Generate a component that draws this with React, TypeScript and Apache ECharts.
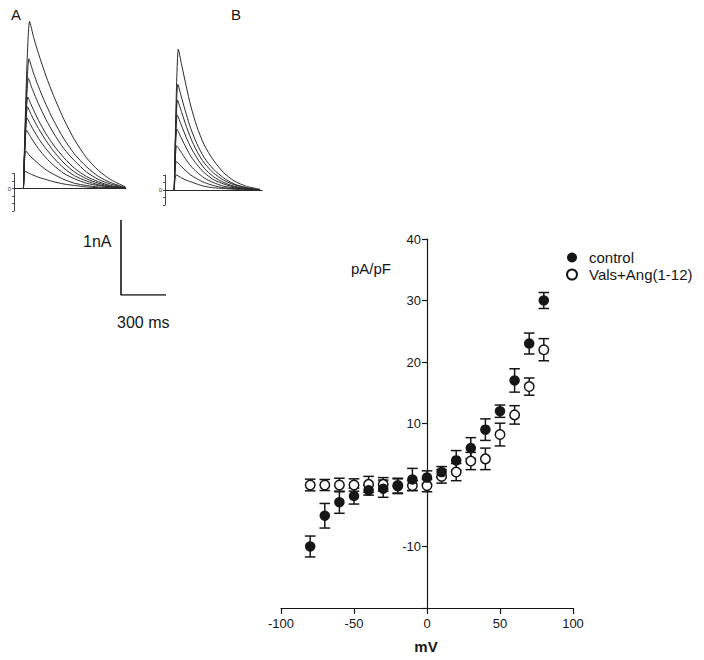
import React, { useEffect, useRef } from "react";
import * as echarts from "echarts";

// ---------- I-V data ----------
const voltages = [-80, -70, -60, -50, -40, -30, -20, -10, 0, 10, 20, 30, 40, 50, 60, 70, 80];
const controlMean = [-10, -5, -2.8, -1.8, -0.85, -0.6, -0.2, 0.9, 1.2, 2.1, 4.0, 6.0, 9.0, 12.0, 17.0, 23.0, 30.0];
const controlSem = [1.7, 2.0, 1.8, 1.3, 0.8, 1.4, 1.2, 1.8, 1.1, 0.9, 1.6, 1.7, 1.75, 1.0, 1.9, 1.7, 1.3];
const valsMean = [0, 0, 0, 0, 0.1, 0.1, -0.1, -0.1, -0.1, 1.4, 2.1, 3.9, 4.25, 8.2, 11.4, 16, 22];
const valsSem = [0.95, 0.9, 1.1, 1.0, 1.3, 1.1, 1.2, 0.8, 1.0, 1.1, 1.4, 1.4, 1.75, 1.85, 1.5, 1.4, 1.8];
const xTicks = [-100, -50, 0, 50, 100];
const yHiddenLabels = [0, -20];

// ---------- current traces (ms, nA) ----------
const tracesA = [
  [[0, 0], [41, 2.23], [70, 2.0], [100, 1.8], [150, 1.5], [200, 1.24], [270, 0.92], [340, 0.65], [420, 0.41], [500, 0.24], [580, 0.12], [680, 0.02]],
  [[0, 0], [37, 1.73], [65, 1.55], [100, 1.36], [150, 1.12], [200, 0.91], [270, 0.66], [340, 0.46], [420, 0.29], [500, 0.16], [580, 0.08], [680, 0.01]],
  [[0, 0], [33, 1.47], [60, 1.32], [100, 1.13], [150, 0.92], [200, 0.74], [270, 0.53], [340, 0.37], [420, 0.22], [500, 0.12], [580, 0.06], [680, 0.01]],
  [[0, 0], [29, 1.22], [55, 1.1], [100, 0.91], [150, 0.73], [200, 0.58], [270, 0.41], [340, 0.27], [420, 0.16], [500, 0.09], [580, 0.04], [680, 0.01]],
  [[0, 0], [27, 1.09], [55, 0.97], [100, 0.8], [150, 0.64], [200, 0.5], [270, 0.34], [340, 0.22], [420, 0.13], [500, 0.07], [580, 0.03], [680, 0]],
  [[0, 0], [24, 0.94], [50, 0.84], [100, 0.67], [150, 0.53], [200, 0.41], [270, 0.27], [340, 0.17], [420, 0.1], [500, 0.05], [580, 0.02], [680, 0]],
  [[0, 0], [20, 0.78], [50, 0.68], [100, 0.53], [150, 0.41], [200, 0.31], [270, 0.2], [340, 0.13], [420, 0.07], [500, 0.04], [580, 0.02], [680, 0]],
  [[0, 0], [16, 0.5], [45, 0.43], [100, 0.33], [150, 0.25], [200, 0.19], [270, 0.12], [340, 0.07], [420, 0.04], [500, 0.02], [580, 0.01], [680, 0]],
  [[0, 0], [12, 0.23], [40, 0.2], [100, 0.15], [150, 0.12], [200, 0.09], [270, 0.06], [340, 0.04], [420, 0.02], [500, 0.01], [580, 0], [680, 0]],
];
const tracesB = [
  [[0, 0], [27, 1.88], [50, 1.66], [80, 1.38], [110, 1.12], [150, 0.85], [200, 0.6], [260, 0.4], [330, 0.23], [400, 0.12], [480, 0.05], [571, 0.01]],
  [[0, 0], [24, 1.41], [50, 1.22], [80, 1.01], [110, 0.82], [150, 0.62], [200, 0.43], [260, 0.28], [330, 0.16], [400, 0.08], [480, 0.03], [571, 0]],
  [[0, 0], [22, 1.2], [50, 1.03], [80, 0.85], [110, 0.69], [150, 0.52], [200, 0.36], [260, 0.23], [330, 0.13], [400, 0.07], [480, 0.03], [571, 0]],
  [[0, 0], [20, 1.0], [50, 0.85], [80, 0.7], [110, 0.57], [150, 0.43], [200, 0.29], [260, 0.18], [330, 0.1], [400, 0.05], [480, 0.02], [571, 0]],
  [[0, 0], [18, 0.81], [50, 0.68], [80, 0.56], [110, 0.45], [150, 0.34], [200, 0.23], [260, 0.14], [330, 0.08], [400, 0.04], [480, 0.02], [571, 0]],
  [[0, 0], [16, 0.59], [50, 0.49], [80, 0.4], [110, 0.32], [150, 0.24], [200, 0.16], [260, 0.1], [330, 0.05], [400, 0.03], [480, 0.01], [571, 0]],
  [[0, 0], [14, 0.38], [50, 0.31], [80, 0.25], [110, 0.2], [150, 0.15], [200, 0.1], [260, 0.06], [330, 0.03], [400, 0.02], [480, 0.01], [571, 0]],
  [[0, 0], [12, 0.2], [50, 0.16], [80, 0.13], [110, 0.11], [150, 0.08], [200, 0.05], [260, 0.03], [330, 0.02], [400, 0.01], [480, 0], [571, 0]],
];
// scale bar: 300 ms x 1 nA
const scaleBar = [[0, 1], [0, 0], [300, 0]];

const FONT = "'Liberation Sans', Arial, sans-serif";
const INK = "#161616";

function errorSeries(name: string, means: number[], sems: number[], z: number) {
  return {
    type: "custom",
    name,
    xAxisIndex: 0,
    yAxisIndex: 0,
    z,
    data: voltages.map((v, i) => [v, means[i] - sems[i], means[i] + sems[i]]),
    encode: { x: 0, y: [1, 2] },
    renderItem: (_p: any, api: any) => {
      const x = api.value(0);
      const lo = api.coord([x, api.value(1)]);
      const hi = api.coord([x, api.value(2)]);
      const hw = 5.3;
      const style = { stroke: INK, lineWidth: 1.5, fill: "none" };
      return {
        type: "group",
        children: [
          { type: "line", shape: { x1: lo[0], y1: lo[1], x2: hi[0], y2: hi[1] }, style },
          { type: "line", shape: { x1: lo[0] - hw, y1: lo[1], x2: lo[0] + hw, y2: lo[1] }, style },
          { type: "line", shape: { x1: hi[0] - hw, y1: hi[1], x2: hi[0] + hw, y2: hi[1] }, style },
        ],
      };
    },
  };
}

function traceSeries(traces: number[][][], axisIndex: number) {
  return traces.map((d, i) => ({
    type: "line",
    name: `trace${axisIndex}_${i}`,
    xAxisIndex: axisIndex,
    yAxisIndex: axisIndex,
    data: d,
    showSymbol: false,
    smooth: 0.25,
    lineStyle: { color: "#2a2a2a", width: 1 },
    z: 2,
  }));
}

const hiddenAxis = (gridIndex: number, min: number, max: number) => ({
  type: "value",
  gridIndex,
  min,
  max,
  show: false,
});

const miniYAxis = (gridIndex: number, min: number, max: number) => ({
  type: "value",
  gridIndex,
  min,
  max,
  interval: 0.1,
  axisLine: { show: true, lineStyle: { color: "#444", width: 1 } },
  axisTick: { show: true, length: 2, lineStyle: { color: "#555", width: 1 } },
  axisLabel: {
    margin: 3,
    fontSize: 6,
    color: "#333",
    fontFamily: FONT,
    formatter: (v: number) => (Math.abs(v) < 1e-9 ? "0" : ""),
  },
  splitLine: { show: false },
});

export default function App() {
  const ref = useRef<HTMLDivElement>(null);
  useEffect(() => {
    document.body.style.margin = "0";
    const chart = echarts.init(ref.current!, null, { renderer: "svg" });
    const option: any = {
      animation: false,
      backgroundColor: "#ffffff",
      grid: [
        { left: 281, top: 239, width: 292, height: 369 }, // 0: I-V
        { left: 14, top: 8.5, width: 112, height: 210 }, // 1: panel A
        { left: 14, top: 173.5, width: 112, height: 37.5 }, // 2: A mini axis
        { left: 165, top: 10, width: 97, height: 210 }, // 3: panel B
        { left: 165, top: 175, width: 97, height: 30 }, // 4: B mini axis
        { left: 121, top: 220, width: 45, height: 75 }, // 5: scale bar
      ],
      xAxis: [
        {
          type: "value",
          gridIndex: 0,
          min: -100,
          max: 100,
          interval: 50,
          axisLine: { onZero: false, lineStyle: { color: INK, width: 1.2 } },
          axisTick: { show: true, length: 6, lineStyle: { color: INK, width: 1.2 } },
          axisLabel: {
            margin: 9,
            fontSize: 13,
            color: INK,
            fontFamily: FONT,
            formatter: (v: number) => (xTicks.includes(v) ? String(v) : ""),
          },
          splitLine: { show: false },
        },
        {
          type: "value",
          gridIndex: 1,
          min: -63,
          max: 683,
          axisLine: { show: true, onZero: true, lineStyle: { color: "#2a2a2a", width: 1 } },
          axisTick: { show: false },
          axisLabel: { show: false },
          splitLine: { show: false },
        },
        hiddenAxis(2, 0, 1),
        {
          type: "value",
          gridIndex: 3,
          min: -62,
          max: 585,
          axisLine: { show: true, onZero: true, lineStyle: { color: "#2a2a2a", width: 1 } },
          axisTick: { show: false },
          axisLabel: { show: false },
          splitLine: { show: false },
        },
        hiddenAxis(4, 0, 1),
        hiddenAxis(5, 0, 300),
      ],
      yAxis: [
        {
          type: "value",
          gridIndex: 0,
          min: -20,
          max: 40,
          interval: 10,
          position: "left",
          offset: -146,
          axisLine: { show: true, onZero: false, lineStyle: { color: INK, width: 1.2 } },
          axisTick: { show: true, length: 5, lineStyle: { color: INK, width: 1.2 } },
          axisLabel: {
            margin: 6,
            fontSize: 13,
            color: INK,
            fontFamily: FONT,
            formatter: (v: number) => (yHiddenLabels.includes(v) ? "" : String(v)),
          },
          splitLine: { show: false },
        },
        hiddenAxis(1, -0.4, 2.4),
        miniYAxis(2, -0.3, 0.2),
        hiddenAxis(3, -0.4, 2.4),
        miniYAxis(4, -0.2, 0.2),
        hiddenAxis(5, 0, 1),
      ],
      legend: {
        orient: "vertical",
        left: 561,
        top: 245,
        itemWidth: 10,
        itemHeight: 10,
        itemGap: 2,
        data: ["control", "Vals+Ang(1-12)"],
        textStyle: { fontSize: 15, color: INK, fontFamily: FONT, padding: [0, 0, 0, 7] },
        selectedMode: false,
      },
      graphic: [
        { type: "text", left: 11, top: 7, style: { text: "A", fontSize: 15, fill: INK, fontFamily: FONT } },
        { type: "text", left: 231, top: 7, style: { text: "B", fontSize: 15, fill: INK, fontFamily: FONT } },
        { type: "text", x: 83, y: 241, style: { text: "1nA", fontSize: 16, fill: INK, fontFamily: FONT, verticalAlign: "middle" } },
        { type: "text", x: 117, y: 322, style: { text: "300 ms", fontSize: 16, fill: INK, fontFamily: FONT, verticalAlign: "middle" } },
        { type: "text", x: 371, y: 268, style: { text: "pA/pF", fontSize: 15, fill: INK, fontFamily: FONT, align: "center", verticalAlign: "middle" } },
        { type: "text", x: 426, y: 646, style: { text: "mV", fontSize: 15, fontWeight: "bold", fill: INK, fontFamily: FONT, align: "center", verticalAlign: "middle" } },
      ],
      series: [
        errorSeries("Vals SEM", valsMean, valsSem, 3),
        errorSeries("control SEM", controlMean, controlSem, 3),
        {
          type: "scatter",
          name: "Vals+Ang(1-12)",
          xAxisIndex: 0,
          yAxisIndex: 0,
          data: voltages.map((v, i) => [v, valsMean[i]]),
          symbol: "circle",
          symbolSize: 9.5,
          itemStyle: { color: "#ffffff", borderColor: INK, borderWidth: 1.5, opacity: 1 },
          z: 4,
        },
        {
          type: "scatter",
          name: "control",
          xAxisIndex: 0,
          yAxisIndex: 0,
          data: voltages.map((v, i) => [v, controlMean[i]]),
          symbol: "circle",
          symbolSize: 10.5,
          itemStyle: { color: INK, opacity: 1 },
          z: 5,
        },
        ...traceSeries(tracesA, 1),
        ...traceSeries(tracesB, 3),
        {
          type: "line",
          name: "scale bar",
          xAxisIndex: 5,
          yAxisIndex: 5,
          data: scaleBar,
          showSymbol: false,
          lineStyle: { color: INK, width: 1.6 },
        },
      ],
    };
    chart.setOption(option);
    return () => chart.dispose();
  }, []);
  return <div ref={ref} style={{ width: 704, height: 660 }} />;
}
